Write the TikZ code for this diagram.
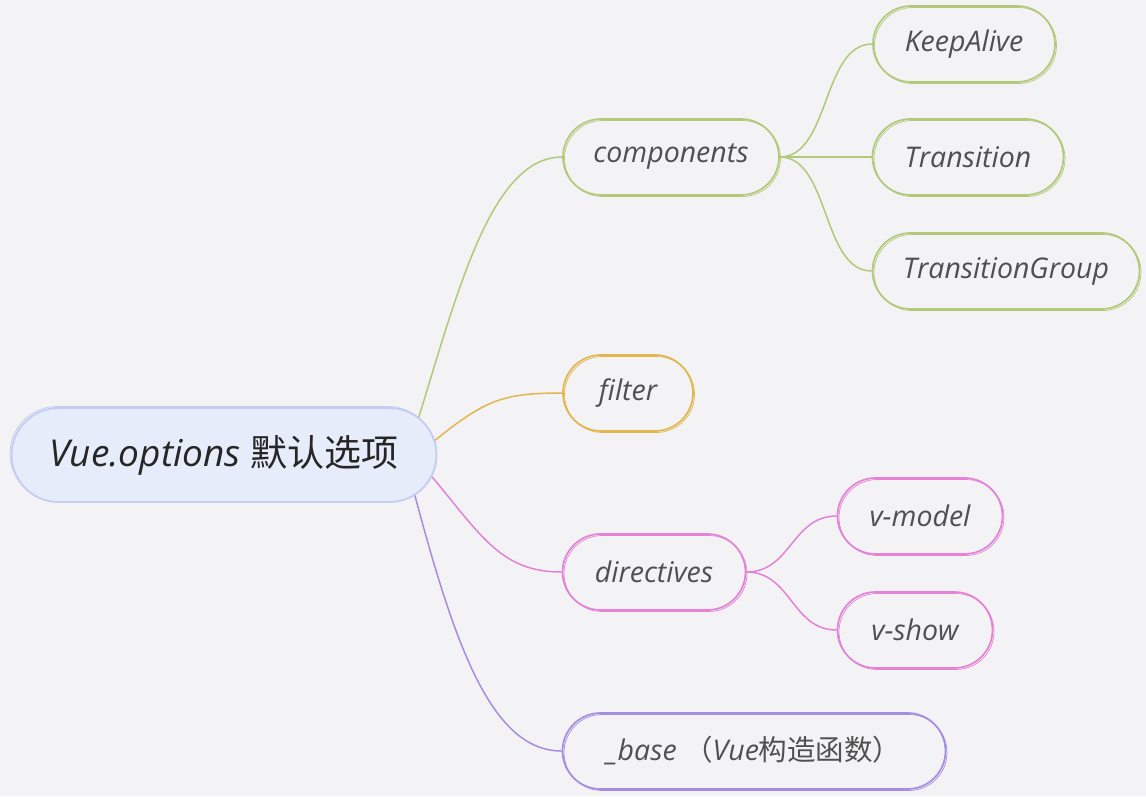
\documentclass[tikz,border=0pt]{standalone}
\usepackage{fontspec}
\setmainfont{Open Sans}
\newfontfamily\cjk{Noto Sans CJK SC}
\usetikzlibrary{shapes.misc}
\definecolor{bg}{HTML}{F3F3F5}
\definecolor{cgreen}{HTML}{B1C978}
\definecolor{corange}{HTML}{E2B64E}
\definecolor{cpink}{HTML}{E482D6}
\definecolor{cpurple}{HTML}{A58DE0}
\definecolor{rootline}{HTML}{C4CDF1}
\definecolor{rootfill}{HTML}{E7ECFB}
\definecolor{txt}{HTML}{505050}
\tikzset{
  sketchnode/.style={rounded rectangle, draw=#1, line width=1.7pt, minimum height=76pt,
    text=txt, font=\fontsize{28.5}{32}\selectfont\itshape, inner xsep=0pt,
    preaction={draw=#1, line width=0.7pt, transform canvas={xshift=1.5pt,yshift=-1.5pt}}},
  rootnode/.style={rounded rectangle, draw=rootline, fill=rootfill, line width=1.8pt, minimum height=94pt,
    text=black!85, font=\fontsize{37}{42}\selectfont\itshape, inner xsep=0pt,
    preaction={draw=rootline, line width=0.8pt, transform canvas={xshift=-1.5pt,yshift=1.5pt}}},
  edge/.style={draw=#1, line width=1.5pt},
}
\begin{document}
\begin{tikzpicture}[x=1pt,y=-1pt]
\fill[bg] (0,0) rectangle (1146,796);
\useasboundingbox (0,0) rectangle (1146,796);

\node[rootnode, minimum width=425pt] (root) at (224,455) {Vue.options {\cjk\upshape 默认选项}};

\node[sketchnode=cgreen, minimum width=216pt] (comp) at (671,157) {components};
\node[sketchnode=cgreen, minimum width=182pt] (keep) at (964,44) {KeepAlive};
\node[sketchnode=cgreen, minimum width=191pt] (trans) at (968,157) {Transition};
\node[sketchnode=cgreen, minimum width=267pt] (tgroup) at (1006,271) {TransitionGroup};
\node[sketchnode=corange, minimum width=130pt] (filter) at (628,393) {filter};
\node[sketchnode=cpink, minimum width=183pt] (dir) at (654,572) {directives};
\node[sketchnode=cpink, minimum width=165pt] (vmodel) at (920,516) {v-model};
\node[sketchnode=cpink, minimum width=155pt] (vshow) at (915,630) {v-show};
\node[sketchnode=cpurple, minimum width=383pt] (base) at (754,751) {\_base {\cjk\upshape （}Vue{\cjk\upshape 构造函数）}};

\draw[edge=cgreen] (root.11) .. controls +(40,-130) and +(-70,0) .. (comp.west);
\draw[edge=corange] (root.4) .. controls +(50,-40) and +(-60,0) .. (filter.west);
\draw[edge=cpink] (root.-6) .. controls +(50,60) and +(-60,0) .. (dir.west);
\draw[edge=cpurple] (root.-12) .. controls +(40,150) and +(-70,0) .. (base.west);

\draw[edge=cgreen] (comp.east) .. controls +(50,0) and +(-50,0) .. (keep.west);
\draw[edge=cgreen] (comp.east) -- (trans.west);
\draw[edge=cgreen] (comp.east) .. controls +(50,0) and +(-50,0) .. (tgroup.west);
\draw[edge=cpink] (dir.east) .. controls +(45,0) and +(-45,0) .. (vmodel.west);
\draw[edge=cpink] (dir.east) .. controls +(45,0) and +(-45,0) .. (vshow.west);
\end{tikzpicture}
\end{document}
